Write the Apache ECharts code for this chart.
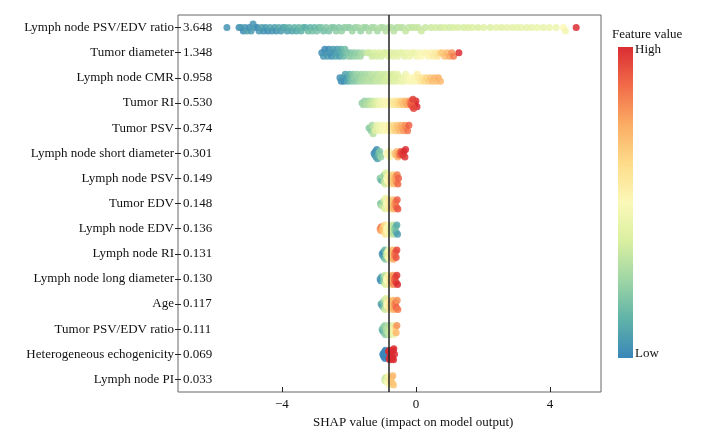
<!DOCTYPE html>
<html>
<head>
<meta charset="utf-8">
<script src="https://cdn.jsdelivr.net/npm/echarts@6/dist/echarts.min.js"></script>
<style>
  html, body { margin: 0; padding: 0; background: #fff; }
  #main { width: 712px; height: 436px; }
</style>
</head>
<body>
<div id="main"></div>
<script>
// features, top to bottom, with mean |SHAP| shown next to each name
var features = ['Lymph node PSV/EDV ratio', 'Tumor diameter', 'Lymph node CMR', 'Tumor RI', 'Tumor PSV',
  'Lymph node short diameter', 'Lymph node PSV', 'Tumor EDV', 'Lymph node EDV', 'Lymph node RI',
  'Lymph node long diameter', 'Age', 'Tumor PSV/EDV ratio', 'Heterogeneous echogenicity', 'Lymph node PI'];
var importance = ['3.648', '1.348', '0.958', '0.530', '0.374', '0.301', '0.149', '0.148', '0.136', '0.131',
  '0.130', '0.117', '0.111', '0.069', '0.033'];
var xTicks = [-4, 0, 4];
var baseValue = -0.8;

// [shap value, feature value 0..1]
var lnPsvEdvRatio = [[-5.64,.04],
  [-5.28,.03],[-5.22,.06],[-5.15,.02],[-5.1,.05],[-5.04,.08],[-4.97,.03],[-4.92,.06],[-4.86,.04],[-4.8,.07],[-4.73,.02],
  [-4.68,.05],[-4.6,.08],[-4.55,.04],[-4.49,.06],[-4.42,.03],[-4.36,.09],[-4.3,.05],[-4.22,.07],[-4.17,.04],[-4.1,.1],
  [-4.03,.06],[-3.97,.08],[-3.9,.11],[-3.84,.07],[-3.78,.12],[-3.7,.09],[-3.63,.13],[-3.57,.1],[-3.5,.14],[-3.43,.12],
  [-3.37,.15],[-3.3,.11],[-3.22,.16],[-3.16,.13],[-3.1,.17],[-3.03,.14],[-2.96,.18],[-2.9,.15],[-2.82,.19],[-2.76,.17],
  [-2.68,.2],[-2.6,.18],[-2.53,.21],[-2.45,.19],[-2.38,.22],[-2.3,.2],[-2.22,.23],[-2.14,.21],[-2.06,.24],[-1.98,.22],
  [-1.9,.25],[-1.82,.23],[-1.73,.26],[-1.65,.24],[-1.57,.27],[-1.49,.25],[-1.4,.28],[-1.32,.26],[-1.24,.28],[-1.15,.27],
  [-1.06,.29],[-0.98,.28],[-0.9,.3],[-0.82,.29],[-0.74,.3],[-0.66,.31],[-0.57,.29],[-0.49,.32],[-0.4,.31],[-0.31,.33],
  [-0.22,.32],[-0.12,.33],[-0.03,.34],[0.07,.33],[0.16,.35],[0.28,.34],[0.45,.35],[0.58,.36],[0.72,.35],[0.85,.37],
  [0.99,.36],[1.12,.37],[1.26,.38],[1.42,.37],[1.55,.38],[1.68,.39],[1.85,.38],[2.02,.4],[2.22,.39],[2.4,.41],
  [2.56,.4],[2.72,.42],[2.88,.41],[3.02,.42],[3.14,.43],[3.3,.42],[3.45,.43],[3.62,.44],[3.8,.43],[3.98,.44],
  [4.18,.45],[4.4,.5],[4.46,.47],[4.78,1]];
var tumorDiameter = [[-2.81,.02],[-2.76,.05],[-2.72,.01],[-2.68,.04],[-2.64,.06],[-2.6,.02],[-2.56,.05],[-2.52,.03],
  [-2.48,.07],[-2.44,.04],[-2.4,.08],[-2.36,.06],[-2.32,.09],[-2.28,.07],[-2.24,.1],[-2.2,.12],[-2.16,.14],
  [-2.12,.16],[-2.06,.18],[-2.0,.2],[-1.95,.19],[-1.9,.22],[-1.84,.21],[-1.78,.24],[-1.72,.23],[-1.66,.26],[-1.6,.28],
  [-1.45,.34],[-1.38,.36],[-1.31,.35],[-1.24,.37],[-1.17,.36],[-1.1,.38],[-1.03,.37],[-0.96,.39],[-0.89,.38],[-0.82,.4],
  [-0.75,.39],[-0.68,.41],[-0.61,.4],[-0.54,.42],[-0.47,.41],[-0.4,.43],[-0.33,.42],[-0.26,.44],[-0.19,.45],[-0.12,.44],
  [-0.05,.46],[0.02,.47],[0.09,.48],[0.16,.5],[0.23,.49],[0.3,.51],[0.37,.52],[0.44,.53],[0.51,.55],[0.58,.56],[0.65,.58],
  [0.72,.64],[0.79,.67],[0.86,.7],[0.93,.72],[1.0,.76],[1.07,.8],[1.12,.84],[1.28,1]];
var lnCmr = [[-2.27,.04],[-2.23,.02],[-2.19,.06],[-2.15,.03],[-2.11,.08],[-2.07,.05],[-2.03,.1],[-1.99,.12],[-1.95,.15],
  [-1.91,.18],[-1.87,.2],[-1.83,.22],[-1.79,.21],[-1.75,.24],[-1.71,.23],[-1.67,.26],[-1.63,.25],[-1.59,.27],[-1.55,.28],
  [-1.51,.27],[-1.47,.29],[-1.43,.3],[-1.39,.29],[-1.35,.31],[-1.31,.3],[-1.27,.32],[-1.23,.31],[-1.19,.33],[-1.15,.32],
  [-1.11,.34],[-1.07,.33],[-1.03,.35],[-0.99,.34],[-0.95,.36],[-0.91,.35],[-0.87,.37],[-0.83,.36],[-0.79,.38],[-0.75,.37],
  [-0.71,.39],[-0.67,.38],[-0.63,.4],[-0.59,.39],[-0.55,.41],[-0.51,.4],[-0.46,.43],[-0.41,.44],[-0.36,.45],[-0.31,.46],
  [-0.26,.47],[-0.21,.48],[-0.16,.5],[-0.11,.49],[-0.06,.52],[-0.01,.51],[0.04,.54],[0.09,.55],[0.14,.57],[0.19,.58],
  [0.25,.62],[0.31,.64],[0.37,.66],[0.43,.68],[0.49,.7],[0.55,.72],[0.61,.7],[0.67,.74],[0.73,.72]];
var tumorRi = [[-1.61,.22],[-1.57,.26],[-1.53,.24],[-1.49,.28],[-1.45,.3],[-1.41,.27],[-1.37,.32],[-1.33,.34],[-1.29,.33],
  [-1.25,.36],[-1.21,.38],[-1.17,.4],[-1.13,.43],[-1.09,.45],[-1.05,.46],[-1.01,.48],[-0.97,.47],[-0.93,.5],[-0.89,.49],
  [-0.85,.51],[-0.81,.52],[-0.77,.53],[-0.73,.55],[-0.69,.56],[-0.65,.57],[-0.61,.59],[-0.57,.6],[-0.53,.62],[-0.49,.64],
  [-0.45,.66],[-0.41,.68],[-0.37,.7],[-0.33,.72],[-0.29,.74],[-0.25,.76],[-0.21,.78],[-0.17,.84],[-0.13,.88],[-0.1,.92],
  [-0.07,.95],[-0.03,.97],[0.0,.99],[0.03,1],[-0.15,.9],[-0.09,.96],[-0.05,1]];
var tumorPsv = [[-1.4,.2],[-1.37,.24],[-1.34,.22],[-1.31,.27],[-1.28,.3],[-1.25,.33],[-1.21,.4],[-1.17,.42],[-1.13,.44],
  [-1.09,.45],[-1.05,.47],[-1.01,.48],[-0.97,.5],[-0.93,.49],[-0.89,.51],[-0.85,.52],[-0.81,.53],[-0.77,.55],[-0.73,.6],
  [-0.69,.62],[-0.65,.64],[-0.61,.66],[-0.57,.68],[-0.53,.7],[-0.49,.72],[-0.45,.74],[-0.41,.76],[-0.37,.78],[-0.33,.8],
  [-0.29,.82],[-0.25,.86],[-0.21,.9]];
var lnShortDiameter = [[-1.25,.02],[-1.23,.05],[-1.21,.03],[-1.19,.06],[-1.17,.04],[-1.15,.08],[-1.13,.1],[-1.11,.14],
  [-1.08,.2],[-1.05,.24],[-0.87,.48],[-0.84,.5],[-0.81,.52],[-0.78,.49],[-0.63,.68],[-0.6,.7],[-0.57,.72],[-0.54,.74],
  [-0.51,.78],[-0.48,.88],[-0.45,.92],[-0.42,.95],[-0.39,.97],[-0.36,1],[-0.33,.98],[-0.31,1]];
var lnPsv = [[-1.07,.2],[-1.04,.15],[-1.02,.25],[-1.0,.1],[-0.98,.28],[-0.96,.3],[-0.94,.22],[-0.92,.35],[-0.9,.4],
  [-0.88,.45],[-0.86,.5],[-0.84,.48],[-0.82,.52],[-0.8,.55],[-0.78,.58],[-0.76,.6],[-0.74,.62],[-0.72,.65],[-0.7,.68],
  [-0.68,.66],[-0.66,.7],[-0.64,.72],[-0.62,.75],[-0.6,.78],[-0.58,.8],[-0.56,.84],[-0.54,.88],[-0.52,.9]];
var tumorEdv = [[-1.06,.22],[-1.04,.28],[-1.02,.18],[-1.0,.3],[-0.98,.25],[-0.96,.34],[-0.94,.38],[-0.92,.42],[-0.9,.46],
  [-0.88,.5],[-0.86,.48],[-0.84,.53],[-0.82,.55],[-0.8,.58],[-0.78,.6],[-0.76,.57],[-0.74,.63],[-0.72,.66],[-0.7,.7],
  [-0.68,.68],[-0.66,.74],[-0.64,.76],[-0.62,.8],[-0.6,.84],[-0.58,.88],[-0.56,.9],[-0.54,.92]];
var lnEdv = [[-1.07,.82],[-1.05,.78],[-1.03,.86],[-1.01,.74],[-0.99,.72],[-0.97,.7],[-0.95,.66],[-0.93,.62],[-0.91,.58],
  [-0.89,.56],[-0.87,.53],[-0.85,.5],[-0.83,.52],[-0.81,.48],[-0.79,.46],[-0.77,.44],[-0.75,.42],[-0.73,.38],[-0.71,.35],
  [-0.69,.32],[-0.67,.3],[-0.65,.26],[-0.63,.22],[-0.61,.18],[-0.59,.14],[-0.57,.1],[-0.55,.06]];
var lnRi = [[-1.01,.04],[-0.99,.06],[-0.97,.02],[-0.95,.1],[-0.93,.15],[-0.91,.2],[-0.89,.28],[-0.87,.35],[-0.85,.42],
  [-0.83,.48],[-0.81,.5],[-0.79,.52],[-0.77,.56],[-0.75,.6],[-0.73,.64],[-0.71,.68],[-0.69,.72],[-0.67,.76],[-0.65,.8],
  [-0.63,.84],[-0.61,.88],[-0.59,.92],[-0.57,.95]];
var lnLongDiameter = [[-1.07,.05],[-1.05,.02],[-1.03,.08],[-1.01,.04],[-0.99,.12],[-0.97,.18],[-0.95,.25],[-0.93,.32],
  [-0.91,.4],[-0.89,.46],[-0.87,.5],[-0.85,.52],[-0.83,.49],[-0.81,.55],[-0.79,.58],[-0.77,.6],[-0.75,.65],[-0.73,.7],
  [-0.71,.74],[-0.69,.78],[-0.67,.82],[-0.65,.86],[-0.63,.9],[-0.61,.93],[-0.59,.96],[-0.57,.98],[-0.55,1]];
var age = [[-1.04,.08],[-1.02,.12],[-1.0,.05],[-0.98,.18],[-0.96,.22],[-0.94,.28],[-0.92,.35],[-0.9,.4],[-0.88,.45],
  [-0.86,.5],[-0.84,.52],[-0.82,.55],[-0.8,.58],[-0.78,.6],[-0.76,.63],[-0.74,.66],[-0.72,.68],[-0.7,.7],[-0.68,.72],
  [-0.66,.75],[-0.64,.78],[-0.62,.82],[-0.6,.86],[-0.58,.9],[-0.56,.8],[-0.54,.85]];
var tumorPsvEdvRatio = [[-1.01,.15],[-0.99,.1],[-0.97,.2],[-0.95,.18],[-0.93,.24],[-0.91,.22],[-0.89,.28],[-0.87,.26],
  [-0.85,.3],[-0.83,.32],[-0.81,.29],[-0.79,.34],[-0.77,.36],[-0.75,.33],[-0.73,.38],[-0.71,.4],[-0.69,.42],[-0.67,.45],
  [-0.65,.5],[-0.63,.58],[-0.61,.65],[-0.59,.72],[-0.57,.8]];
var heteroEcho = [[-0.99,0],[-0.97,0],[-0.96,0],[-0.95,0],[-0.93,0],[-0.92,0],[-0.91,0],[-0.89,0],[-0.88,0],[-0.87,0],
  [-0.85,0],[-0.82,1],[-0.8,1],[-0.79,1],[-0.78,1],[-0.76,1],[-0.75,1],[-0.74,1],[-0.72,1],[-0.71,1],[-0.7,1],
  [-0.68,1],[-0.67,1],[-0.66,1],[-0.64,1]];
var lnPi = [[-0.93,.3],[-0.91,.38],[-0.9,.34],[-0.88,.42],[-0.86,.46],[-0.85,.4],[-0.83,.5],[-0.81,.52],[-0.79,.48],
  [-0.77,.58],[-0.75,.62],[-0.73,.66],[-0.71,.7],[-0.69,.72],[-0.67,.68]];

var rows = [lnPsvEdvRatio, tumorDiameter, lnCmr, tumorRi, tumorPsv, lnShortDiameter, lnPsv, tumorEdv, lnEdv, lnRi,
  lnLongDiameter, age, tumorPsvEdvRatio, heteroEcho, lnPi];

var colors = ['#3a86ba', '#5fb3a8', '#9ed5a5', '#d9efa0', '#fbf8b8', '#fddc8a', '#fbad64', '#f26c49', '#da2d33'];
var serif = 'Liberation Serif, Times New Roman, serif';

// stack points that fall in the same x bin, like a shap beeswarm
function swarm(pts, row) {
  var binW = 0.12;
  var sorted = pts.slice().sort(function (a, b) { return a[0] - b[0]; });
  var bins = {};
  sorted.forEach(function (p) {
    var k = Math.round(p[0] / binW);
    (bins[k] = bins[k] || []).push(p);
  });
  var maxN = 1;
  Object.keys(bins).forEach(function (k) { maxN = Math.max(maxN, bins[k].length); });
  var half = Math.ceil((maxN - 1) / 2) || 1;
  var step = Math.min(0.14, 0.22 / half);
  var out = [];
  Object.keys(bins).forEach(function (k) {
    bins[k].forEach(function (p, i) {
      var lvl = Math.ceil(i / 2) * (i % 2 ? 1 : -1);
      out.push([p[0], row + lvl * step, p[1]]);
    });
  });
  return out;
}

var points = [];
rows.forEach(function (r, i) { points = points.concat(swarm(r, i)); });

var chart = echarts.init(document.getElementById('main'));
chart.setOption({
  animation: false,
  textStyle: { fontFamily: serif },
  grid: { left: 178, right: 111, top: 15, bottom: 44, show: true, borderColor: '#666', borderWidth: 1, outerBoundsMode: 'none' },
  xAxis: {
    type: 'value', min: -7.1, max: 5.52,
    splitLine: { show: false },
    axisLine: { show: false, onZero: false },
    axisTick: { show: true, inside: true, length: 5, customValues: xTicks, lineStyle: { color: '#222' } },
    axisLabel: {
      customValues: xTicks, margin: 6, fontSize: 13, color: '#111', fontFamily: serif,
      formatter: function (v) { return String(v).replace('-', '\u2212'); }
    }
  },
  yAxis: [
    {
      type: 'category', data: features, inverse: true, position: 'left',
      axisLine: { show: false, onZero: false },
      axisTick: { show: true, alignWithLabel: true, length: 3, lineStyle: { color: '#222' } },
      axisLabel: { fontSize: 13, color: '#111', margin: 4, fontFamily: serif },
      splitLine: { show: false }
    },
    {
      type: 'category', data: importance, inverse: true, position: 'left',
      axisLine: { show: false, onZero: false },
      axisTick: { show: true, inside: true, alignWithLabel: true, length: 3, lineStyle: { color: '#222' } },
      axisLabel: { inside: true, fontSize: 13, color: '#111', margin: 5, fontFamily: serif },
      splitLine: { show: false }
    },
    { type: 'value', min: -0.5, max: 14.5, inverse: true, show: false, axisLine: { onZero: false } }
  ],
  visualMap: {
    show: false, type: 'continuous', dimension: 2, seriesIndex: 0, min: 0, max: 1,
    inRange: { color: colors }
  },
  series: [{
    type: 'scatter', yAxisIndex: 2, data: points, symbolSize: 7,
    itemStyle: { opacity: 0.85 },
    markLine: {
      silent: true, symbol: 'none', label: { show: false },
      lineStyle: { color: '#222', width: 1.5, type: 'solid' },
      data: [{ xAxis: baseValue }]
    }
  }],
  graphic: [
    {
      type: 'rect', shape: { x: 618, y: 47, width: 15, height: 311 },
      style: {
        fill: new echarts.graphic.LinearGradient(0, 0, 0, 1, colors.slice().reverse().map(function (c, i, a) {
          return { offset: i / (a.length - 1), color: c };
        }))
      }
    },
    { type: 'text', left: 612, top: 28, style: { text: 'Feature value', font: '13px ' + serif, fill: '#111' } },
    { type: 'text', left: 635, top: 43, style: { text: 'High', font: '13px ' + serif, fill: '#111' } },
    { type: 'text', left: 635, top: 347, style: { text: 'Low', font: '13px ' + serif, fill: '#111' } },
    { type: 'text', left: 313, top: 416, style: { text: 'SHAP value (impact on model output)', font: '13px ' + serif, fill: '#111' } }
  ]
});
</script>
</body>
</html>
